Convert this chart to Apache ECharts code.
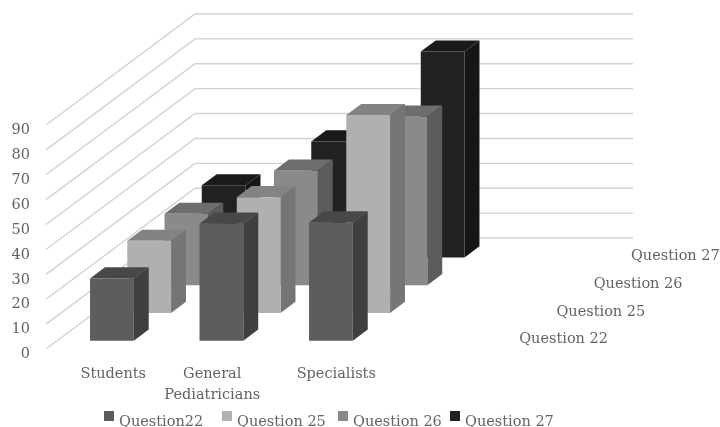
<!DOCTYPE html>
<html>
<head>
<meta charset="utf-8">
<style>html,body{margin:0;padding:0;background:#fff}#c{width:720px;height:427px;filter:blur(0.45px)}</style>
<script src="https://cdn.jsdelivr.net/npm/echarts@6/dist/echarts.min.js"></script>
</head>
<body>
<div id="c"></div>
<script>
const categories = ['Students', 'General Pediatricians', 'Specialists', ''];
const valueTicks = [0, 10, 20, 30, 40, 50, 60, 70, 80, 90];
const legendNames = ['Question22', 'Question 25', 'Question 26', 'Question 27'];
const depthNames = ['Question 22', 'Question 25', 'Question 26', 'Question 27'];
const question22 = [25, 47, 47.5];
const question25 = [29, 46.5, 79.5];
const question26 = [28.7, 46, 67.7];
const question27 = [29, 46.6, 82.7];

const seriesValues = [question22, question25, question26, question27];
const faceColors = [
  { front: '#5d5d5d', side: '#3f3f3f', top: '#484848' },
  { front: '#b0b0b0', side: '#757575', top: '#838383' },
  { front: '#8a8a8a', side: '#5c5c5c', top: '#6d6d6d' },
  { front: '#212121', side: '#161616', top: '#1a1a1a' }
];
const DEPTH_X = 149, DEPTH_Y = 111, SLOTS = 4;
const BAR_W = 0.4, BAR_D = 0.4, GAP_D = 0.3;
const FAMILY = '"DejaVu Serif", serif';
const SIZE = 14.5;
const FONT = SIZE + 'px ' + FAMILY;
const TEXT = '#636363';
const LEGEND_LEFT = [104, 222, 338, 450];

function barItem(k, colors) {
  return function (params, api) {
    const bw = api.size([1, 0])[0] * BAR_W;
    const d0 = (k + GAP_D) / SLOTS, dw = BAR_D / SLOTS;
    const c = api.coord([api.value(0), api.value(1)]);
    const b = api.coord([api.value(0), 0]);
    const x0 = c[0] - bw / 2 + d0 * DEPTH_X, x1 = x0 + bw;
    const yt = c[1] - d0 * DEPTH_Y, yb = b[1] - d0 * DEPTH_Y;
    const sx = dw * DEPTH_X, sy = dw * DEPTH_Y;
    return { type: 'group', children: [
      { type: 'polygon', shape: { points: [[x0, yt], [x1, yt], [x1 + sx, yt - sy], [x0 + sx, yt - sy]] }, style: { fill: colors.top, opacity: 1 } },
      { type: 'polygon', shape: { points: [[x1, yt], [x1 + sx, yt - sy], [x1 + sx, yb - sy], [x1, yb]] }, style: { fill: colors.side, opacity: 1 } },
      { type: 'rect', shape: { x: x0, y: yt, width: bw, height: yb - yt }, style: { fill: colors.front, opacity: 1 } }
    ] };
  };
}

const wallSeries = {
  type: 'custom', silent: true, z: 1,
  data: valueTicks.map(v => [0, v]),
  renderItem(params, api) {
    const cs = params.coordSys;
    const y = api.coord([0, api.value(1)])[1];
    return { type: 'polyline',
      shape: { points: [[cs.x, y], [cs.x + DEPTH_X, y - DEPTH_Y], [cs.x + DEPTH_X + cs.width, y - DEPTH_Y]] },
      style: { stroke: '#d2d2d2', lineWidth: 1.4, fill: null } };
  }
};

const depthLabelSeries = {
  type: 'custom', silent: true, z: 20,
  data: depthNames.map((n, k) => [0, 0, k]),
  renderItem(params, api) {
    const cs = params.coordSys;
    const k = api.value(2);
    const d = (k + GAP_D) / SLOTS;
    return { type: 'text', style: {
      text: depthNames[k], x: cs.x + cs.width + d * DEPTH_X + 24, y: cs.y + cs.height - d * DEPTH_Y - 1,
      fill: TEXT, font: FONT, align: 'left', verticalAlign: 'middle' } };
  }
};

const barSeries = seriesValues.map((vals, k) => ({
  name: legendNames[k], type: 'custom', silent: true, z: 10 - k,
  itemStyle: { color: faceColors[k].front },
  data: vals.map((v, i) => [i, v]),
  encode: { x: 0, y: 1 },
  renderItem: barItem(k, faceColors[k])
}));

const richBase = { color: TEXT, fontSize: SIZE, lineHeight: 21, fontFamily: FAMILY };
const chart = echarts.init(document.getElementById('c'), null, { renderer: 'canvas' });
chart.setOption({
  animation: false,
  backgroundColor: '#fff',
  grid: { left: 46, top: 125, width: 438, height: 224 },
  legend: legendNames.map((name, k) => ({
    data: [name], top: 411, left: LEGEND_LEFT[k], padding: 0, itemWidth: 10, itemHeight: 10, icon: 'rect',
    formatter: '{t|{name}}',
    textStyle: { color: TEXT, fontFamily: FAMILY, fontSize: SIZE,
      rich: { t: { color: TEXT, fontFamily: FAMILY, fontSize: SIZE, padding: [13, 0, 0, 0] } } }
  })),
  xAxis: {
    type: 'category', data: categories,
    axisLine: { show: false }, axisTick: { show: false }, splitLine: { show: false },
    axisLabel: {
      interval: 0, margin: 15, color: TEXT, fontFamily: FAMILY, fontSize: SIZE,
      formatter(v) {
        if (v === categories[0]) return '{s|Students}';
        if (v === categories[1]) return '{g|General}\n{g|Pediatricians}';
        if (v === categories[2]) return '{p|Specialists}';
        return '';
      },
      rich: {
        s: Object.assign({ padding: [0, 0, 0, 25] }, richBase),
        g: Object.assign({ padding: [0, 0, 0, 4] }, richBase),
        p: Object.assign({ padding: [0, 0, 0, 33] }, richBase)
      }
    }
  },
  yAxis: {
    type: 'value', min: 0, max: 90, interval: 10,
    axisLine: { show: false }, axisTick: { show: false }, splitLine: { show: false },
    axisLabel: { margin: 16, color: TEXT, fontFamily: FAMILY, fontSize: SIZE,
      formatter: '{a|{value}}',
      rich: { a: { color: TEXT, fontFamily: FAMILY, fontSize: SIZE, padding: [11, 0, 0, 0] } } }
  },
  series: [wallSeries].concat(barSeries, [depthLabelSeries])
});
</script>
</body>
</html>
